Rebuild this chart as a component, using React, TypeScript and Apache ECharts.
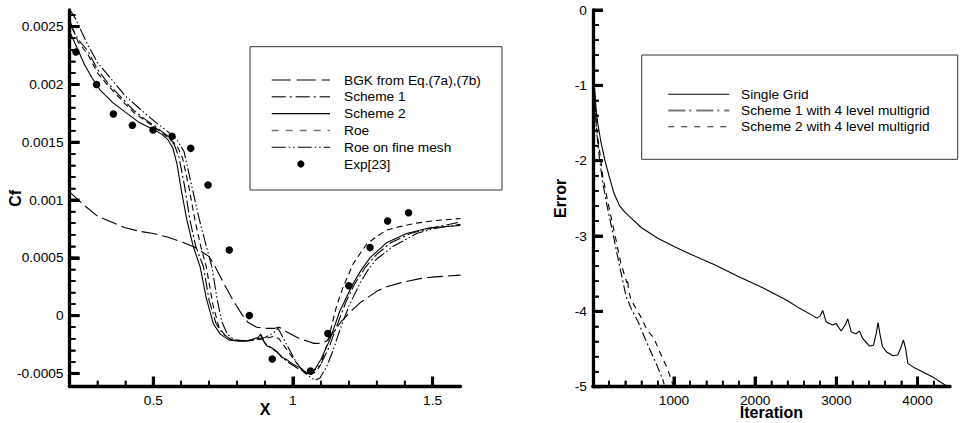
import React, { useEffect, useRef } from "react";
import * as echarts from "echarts";

const FONT = "Arial";

// ---------- Left chart: skin friction Cf vs X ----------
const LX_MAJOR = [0.5, 1, 1.5];
const LX_MINOR = [0.3, 0.4, 0.6, 0.7, 0.8, 0.9, 1.1, 1.2, 1.3, 1.4];
const LY_MAJOR = [-0.0005, 0, 0.0005, 0.001, 0.0015, 0.002, 0.0025];
const LY_MINOR = [
  -0.0004, -0.0003, -0.0002, -0.0001, 0.0001, 0.0002, 0.0003, 0.0004, 0.0006, 0.0007, 0.0008, 0.0009,
  0.0011, 0.0012, 0.0013, 0.0014, 0.0016, 0.0017, 0.0018, 0.0019, 0.0021, 0.0022, 0.0023, 0.0024, 0.0026,
];

const BGK = [
  [0.2, 0.00107], [0.25, 0.00096], [0.3, 0.00086], [0.35, 0.00081], [0.4, 0.00076], [0.45, 0.00073],
  [0.5, 0.00071], [0.55, 0.00068], [0.6, 0.00064], [0.65, 0.00059], [0.7, 0.00051], [0.72, 0.00043],
  [0.75, 0.00029], [0.786, 0.00013], [0.82, 0.0], [0.84, -0.00006], [0.87, -0.0001], [0.906, -0.00011],
  [0.935, -0.00011], [0.95, -0.0001], [0.965, -0.00012], [0.977, -0.00014], [1.0, -0.00017], [1.025, -0.0002],
  [1.05, -0.00022], [1.075, -0.00024], [1.1, -0.00024], [1.121, -0.00022], [1.144, -0.00015], [1.17, -0.00006],
  [1.2, 0.00002], [1.24, 0.00011], [1.3, 0.00021], [1.335, 0.00025], [1.395, 0.00029], [1.455, 0.00032],
  [1.508, 0.000335], [1.6, 0.00035],
];

const SCHEME1 = [
  [0.2, 0.00253], [0.23, 0.00239], [0.266, 0.00229], [0.3, 0.00213], [0.338, 0.00201], [0.4, 0.00185],
  [0.433, 0.00177], [0.47, 0.0017], [0.505, 0.00164], [0.553, 0.00155], [0.575, 0.00148], [0.592, 0.00137],
  [0.612, 0.00112], [0.631, 0.00083], [0.652, 0.0006], [0.68, 0.00042], [0.7, 0.00013], [0.725, -0.00007],
  [0.75, -0.00016], [0.78, -0.00021], [0.834, -0.00022], [0.875, -0.0002], [0.885, -0.00017], [0.9, -0.00024],
  [0.94, -0.00031], [0.98, -0.0004], [1.02, -0.00046], [1.05, -0.0005], [1.075, -0.00048], [1.1, -0.00042],
  [1.13, -0.00027], [1.16, -0.00007], [1.19, 0.00012], [1.22, 0.00027], [1.26, 0.00042], [1.3, 0.00053],
  [1.35, 0.00063], [1.42, 0.00071], [1.5, 0.00076], [1.6, 0.00081],
];

const SCHEME2 = [
  [0.2, 0.00246], [0.23, 0.0023], [0.254, 0.00217], [0.28, 0.00206], [0.31, 0.00195], [0.356, 0.00184],
  [0.4, 0.00176], [0.45, 0.00167], [0.5, 0.00161], [0.53, 0.00157], [0.553, 0.00152], [0.57, 0.00145],
  [0.585, 0.00131], [0.6, 0.00109], [0.62, 0.00083], [0.643, 0.0006], [0.668, 0.00042], [0.69, 0.00015],
  [0.715, -0.00007], [0.74, -0.00016], [0.77, -0.00021], [0.8, -0.00022], [0.834, -0.00022], [0.86, -0.0002],
  [0.875, -0.00019], [0.885, -0.00016], [0.895, -0.00022], [0.906, -0.00026], [0.925, -0.00028],
  [0.942, -0.00031], [0.96, -0.00036], [0.977, -0.00038], [1.0, -0.00042], [1.025, -0.00045], [1.045, -0.0005],
  [1.065, -0.00049], [1.08, -0.00046], [1.1, -0.00038], [1.132, -0.00021], [1.168, 0.00004], [1.2, 0.0002],
  [1.216, 0.00028], [1.246, 0.0004], [1.276, 0.0005], [1.335, 0.00063], [1.407, 0.00071], [1.49, 0.00076],
  [1.6, 0.00078],
];

const ROE = [
  [0.2, 0.00256], [0.23, 0.00237], [0.266, 0.00226], [0.3, 0.0021], [0.338, 0.00199], [0.4, 0.00183],
  [0.433, 0.00175], [0.47, 0.00169], [0.505, 0.00163], [0.553, 0.00154], [0.585, 0.00147], [0.605, 0.00136],
  [0.627, 0.00112], [0.649, 0.00083], [0.67, 0.0006], [0.69, 0.00042], [0.713, 0.0001], [0.735, -0.0001],
  [0.76, -0.00018], [0.79, -0.00022], [0.834, -0.00022], [0.87, -0.00021], [0.9, -0.0002], [0.93, -0.00018],
  [0.95, -0.0002], [0.98, -0.0003], [1.01, -0.0004], [1.04, -0.00048], [1.065, -0.00051], [1.085, -0.00048],
  [1.1, -0.00042], [1.125, -0.00022], [1.156, 0.00008], [1.18, 0.00025], [1.2, 0.00036], [1.216, 0.00045],
  [1.264, 0.00062], [1.31, 0.0007], [1.335, 0.00074], [1.383, 0.00077], [1.442, 0.0008], [1.5, 0.00082],
  [1.6, 0.00084],
];

const ROE_FINE = [
  [0.2, 0.00265], [0.219, 0.00258], [0.266, 0.00234], [0.3, 0.00219], [0.338, 0.00208], [0.4, 0.0019],
  [0.433, 0.00183], [0.47, 0.00175], [0.505, 0.00168], [0.553, 0.00159], [0.585, 0.00152], [0.61, 0.00142],
  [0.635, 0.00115], [0.665, 0.00083], [0.69, 0.0006], [0.71, 0.00042], [0.728, 0.00015], [0.745, -0.00005],
  [0.765, -0.00016], [0.79, -0.00021], [0.834, -0.00022], [0.87, -0.0002], [0.9, -0.00019], [0.93, -0.00015],
  [0.947, -0.00011], [0.96, -0.00017], [0.982, -0.00027], [1.013, -0.00041], [1.04, -0.00049], [1.061, -0.00053],
  [1.079, -0.00056], [1.097, -0.00054], [1.121, -0.00044], [1.144, -0.0003], [1.17, -0.00011], [1.2, 0.00008],
  [1.24, 0.00028], [1.27, 0.0004], [1.3, 0.00049], [1.359, 0.0006], [1.443, 0.00071], [1.5, 0.00075],
  [1.6, 0.00079],
];

const EXP23 = [
  [0.223, 0.00228], [0.297, 0.002], [0.357, 0.001744], [0.425, 0.001647], [0.499, 0.001606], [0.567, 0.001551],
  [0.634, 0.001447], [0.696, 0.00113], [0.772, 0.000567], [0.844, 0.0], [0.926, -0.000376], [1.063, -0.00048],
  [1.125, -0.000154], [1.2, 0.000258], [1.276, 0.00059], [1.339, 0.000818], [1.414, 0.00089],
];

// ---------- Right chart: convergence history ----------
const RX_MAJOR = [1000, 2000, 3000, 4000];
const RX_MINOR = [200, 400, 600, 800, 1200, 1400, 1600, 1800, 2200, 2400, 2600, 2800, 3200, 3400, 3600, 3800, 4200];
const RY_MAJOR = [-5, -4, -3, -2, -1, 0];
const RY_MINOR = [
  -4.8, -4.6, -4.4, -4.2, -3.8, -3.6, -3.4, -3.2, -2.8, -2.6, -2.4, -2.2, -1.8, -1.6, -1.4, -1.2,
  -0.8, -0.6, -0.4, -0.2,
];

const SINGLE_GRID = [
  [15, -0.98], [25, -1.08], [40, -1.3], [60, -1.5], [100, -1.75], [150, -2.0], [200, -2.2], [260, -2.43],
  [330, -2.6], [400, -2.69], [500, -2.79], [600, -2.89], [800, -3.03], [1000, -3.14], [1200, -3.24],
  [1500, -3.38], [1800, -3.54], [2100, -3.69], [2400, -3.86], [2546, -3.96], [2700, -4.05], [2760, -4.09],
  [2800, -4.06], [2833, -3.99], [2874, -4.14], [2956, -4.18], [2997, -4.16], [3059, -4.26], [3110, -4.18],
  [3141, -4.1], [3182, -4.27], [3244, -4.3], [3284, -4.26], [3325, -4.36], [3408, -4.46], [3457, -4.45],
  [3490, -4.3], [3514, -4.15], [3540, -4.32], [3570, -4.47], [3620, -4.54], [3695, -4.59], [3756, -4.58],
  [3795, -4.48], [3826, -4.38], [3855, -4.5], [3880, -4.69], [3962, -4.75], [4187, -4.87], [4343, -4.98],
];

const SCHEME1_MG = [
  [15, -0.98], [30, -1.3], [50, -1.65], [80, -1.95], [120, -2.28], [180, -2.62], [250, -2.98], [330, -3.4],
  [410, -3.8], [480, -3.98], [550, -4.12], [620, -4.3], [700, -4.5], [780, -4.69], [860, -4.9], [880, -4.97],
];

const SCHEME2_MG = [
  [15, -0.98], [30, -1.3], [50, -1.6], [100, -2.0], [120, -2.19], [180, -2.52], [260, -2.92], [345, -3.36],
  [420, -3.62], [428, -3.57], [440, -3.72], [472, -3.85], [590, -4.07], [670, -4.25], [750, -4.35],
  [850, -4.6], [920, -4.76], [985, -4.97],
];

const LEFT_LEGEND = [
  { name: "BGK from Eq.(7a),(7b)", dash: [19, 6], color: "#000", width: 1.1 },
  { name: "Scheme 1", dash: [14, 4, 2, 4], color: "#444", width: 1.5 },
  { name: "Scheme 2", dash: null, color: "#000", width: 1.1 },
  { name: "Roe", dash: [7, 7], color: "#777", width: 1.5 },
  { name: "Roe on fine mesh", dash: [14, 3, 1.5, 3, 1.5, 3], color: "#000", width: 1.1 },
  { name: "Exp[23]", dash: "dot", color: "#000", width: 1 },
];

const RIGHT_LEGEND = [
  { name: "Single Grid", dash: null, color: "#000", width: 1.1 },
  { name: "Scheme 1 with 4 level multigrid", dash: [17, 4, 2, 5], color: "#777", width: 2 },
  { name: "Scheme 2 with 4 level multigrid", dash: [6, 7], color: "#222", width: 1.1 },
];

type Frame = { left: number; width: number; x: number[]; y: number[] };
// right chart lives in its own containers starting at x = 481
const LEFT_FRAME: Frame = { left: 69.5, width: 391, x: [0.2, 1.6], y: [-0.000615, 0.002644] };
const RIGHT_FRAME: Frame = { left: 111.8, width: 357.2, x: [0, 4400], y: [-5, 0] };

function gridOf(f: Frame) {
  return [{ left: f.left, top: 10, width: f.width, height: 376.7, outerBoundsMode: "none", containLabel: false }];
}

function mainAxis(dim: "x" | "y", min: number, max: number, major: number[], name: string, nameGap: number) {
  return {
    type: "value",
    gridIndex: 0,
    min,
    max,
    position: dim === "x" ? "bottom" : "left",
    name,
    nameLocation: "middle",
    nameGap,
    nameMoveOverlap: false,
    nameTextStyle: { color: "#000", fontSize: 16, fontWeight: "bold", fontFamily: FONT },
    axisLine: { show: true, onZero: false, lineStyle: { color: "#000", width: 3.3 } },
    axisTick: { show: true, inside: true, length: 10, lineStyle: { color: "#000", width: 3 }, customValues: major },
    axisLabel: {
      color: "#000",
      fontSize: 13.7,
      fontFamily: FONT,
      margin: dim === "x" ? 6.5 : 6,
      customValues: major,
      formatter: (v: number) => String(v),
    },
    splitLine: { show: false },
  };
}

function minorAxis(dim: "x" | "y", min: number, max: number, minor: number[]) {
  return {
    type: "value",
    gridIndex: 0,
    min,
    max,
    position: dim === "x" ? "bottom" : "left",
    offset: 0,
    axisLine: { show: false, onZero: false },
    axisTick: { show: true, inside: true, length: 6, lineStyle: { color: "#000", width: 1.6 }, customValues: minor },
    axisLabel: { show: false },
    splitLine: { show: false },
  };
}

function hiddenAxis(min: number, max: number) {
  return { type: "value", gridIndex: 0, min, max, show: false, splitLine: { show: false } };
}

function legendGraphics(
  items: { name: string; dash: any; color: string; width: number }[],
  box: { x: number; y: number; w: number; h: number },
  x1: number, x2: number, tx: number, y0: number, dy: number
) {
  const els: any[] = [
    { type: "rect", shape: { x: box.x, y: box.y, width: box.w, height: box.h }, style: { fill: "none", stroke: "#333", lineWidth: 1 } },
  ];
  items.forEach((it, i) => {
    const y = y0 + i * dy;
    if (it.dash === "dot") {
      els.push({ type: "circle", shape: { cx: (x1 + x2) / 2, cy: y, r: 3.6 }, style: { fill: "#000" } });
    } else {
      els.push({ type: "line", shape: { x1, y1: y, x2, y2: y }, style: { stroke: it.color, lineWidth: it.width, lineDash: it.dash || undefined } });
    }
    els.push({ type: "text", x: tx, y, style: { text: it.name, fill: "#000", font: `13.7px ${FONT}`, verticalAlign: "middle", align: "left" } });
  });
  return els;
}

function lineSeries(data: number[][], dash: any, name: string, width = 1.1) {
  return {
    type: "line", name, xAxisIndex: 0, yAxisIndex: 0, data, showSymbol: false, symbol: "none",
    lineStyle: { color: "#000", width, type: dash || "solid" },
  };
}

// ----- data layers -----
function leftData() {
  const f = LEFT_FRAME;
  return {
    animation: false,
    grid: gridOf(f),
    xAxis: [hiddenAxis(f.x[0], f.x[1])],
    yAxis: [hiddenAxis(f.y[0], f.y[1])],
    series: [
      lineSeries(BGK, [16, 5], "BGK from Eq.(7a),(7b)"),
      lineSeries(SCHEME1, [12, 3, 2, 3], "Scheme 1"),
      lineSeries(SCHEME2, null, "Scheme 2"),
      lineSeries(ROE, [6, 4], "Roe"),
      lineSeries(ROE_FINE, [12, 2.5, 1.5, 2.5, 1.5, 2.5], "Roe on fine mesh"),
      { type: "scatter", name: "Exp[23]", xAxisIndex: 0, yAxisIndex: 0, data: EXP23, symbol: "circle", symbolSize: 7.5, itemStyle: { color: "#000", opacity: 1 } },
    ],
    graphic: legendGraphics(LEFT_LEGEND, { x: 250, y: 46.7, w: 252, h: 143.3 }, 271.7, 330, 344, 80, 16.8),
  };
}

function rightData() {
  const f = RIGHT_FRAME;
  return {
    animation: false,
    grid: gridOf(f),
    xAxis: [hiddenAxis(f.x[0], f.x[1])],
    yAxis: [hiddenAxis(f.y[0], f.y[1])],
    series: [
      lineSeries(SINGLE_GRID, null, "Single Grid"),
      lineSeries(SCHEME1_MG, [9, 3, 2, 3], "Scheme 1 with 4 level multigrid"),
      lineSeries(SCHEME2_MG, [6, 5], "Scheme 2 with 4 level multigrid"),
    ],
    graphic: legendGraphics(RIGHT_LEGEND, { x: 160.7, y: 55, w: 316, h: 104.3 }, 187.3, 248.3, 260, 94.3, 16.2),
  };
}

// ----- axis layers (frame, labels, names, ticks) -----
type AxisSpec = { f: Frame; xMaj: number[]; xMin: number[]; yMaj: number[]; yMin: number[]; xName: string; yName: string; xGap: number; yGap: number };
const LEFT_AXES: AxisSpec = { f: LEFT_FRAME, xMaj: LX_MAJOR, xMin: LX_MINOR, yMaj: LY_MAJOR, yMin: LY_MINOR, xName: "X", yName: "Cf", xGap: 15, yGap: 46 };
const RIGHT_AXES: AxisSpec = { f: RIGHT_FRAME, xMaj: RX_MAJOR, xMin: RX_MINOR, yMaj: RY_MAJOR, yMin: RY_MINOR, xName: "Iteration", yName: "Error", xGap: 18, yGap: 24 };

function axesOption(s: AxisSpec) {
  const f = s.f;
  return {
    animation: false,
    grid: gridOf(f),
    xAxis: [mainAxis("x", f.x[0], f.x[1], s.xMaj, s.xName, s.xGap), minorAxis("x", f.x[0], f.x[1], s.xMin)],
    yAxis: [mainAxis("y", f.y[0], f.y[1], s.yMaj, s.yName, s.yGap), minorAxis("y", f.y[0], f.y[1], s.yMin)],
    series: [{ type: "line", xAxisIndex: 0, yAxisIndex: 0, data: [], showSymbol: false }],
  };
}

// backup tick marks, placed through the axes' own scales
function tickMarks(chart: any, s: AxisSpec) {
  const f = s.f;
  const px = (v: number) => chart.convertToPixel({ xAxisIndex: 0 }, v) as number;
  const py = (v: number) => chart.convertToPixel({ yAxisIndex: 0 }, v) as number;
  const x0 = px(f.x[0]);
  const y0 = py(f.y[0]);
  const els: any[] = [];
  const seg = (a: number, b: number, c: number, d: number, w: number) =>
    els.push({ type: "line", shape: { x1: a, y1: b, x2: c, y2: d }, style: { stroke: "#000", lineWidth: w } });
  s.xMaj.forEach((v) => { const x = px(v); seg(x, y0, x, y0 - 10, 3); });
  s.xMin.forEach((v) => { const x = px(v); seg(x, y0, x, y0 - 6, 1.6); });
  s.yMaj.forEach((v) => { const y = py(v); seg(x0, y, x0 + 10, y, 3); });
  s.yMin.forEach((v) => { const y = py(v); seg(x0, y, x0 + 6, y, 1.6); });
  return els;
}

function Chart({ left, width, build, ticks }: { left: number; width: number; build: () => any; ticks?: AxisSpec }) {
  const ref = useRef<HTMLDivElement>(null);
  useEffect(() => {
    const chart = echarts.init(ref.current as HTMLDivElement, null, { renderer: "svg" });
    chart.setOption(build());
    if (ticks) {
      try {
        chart.setOption({ graphic: tickMarks(chart, ticks) });
      } catch (e) {
        /* axis ticks already drawn by the axes */
      }
    }
    return () => chart.dispose();
  }, []);
  return <div ref={ref} style={{ position: "absolute", left, top: 0, width, height: 423 }} />;
}

export default function App() {
  return (
    <div style={{ position: "absolute", left: 0, top: 0, width: 962, height: 423, background: "#fff" }}>
      <Chart left={0} width={962} build={leftData} />
      <Chart left={481} width={481} build={rightData} />
      <Chart left={0} width={481} build={() => axesOption(LEFT_AXES)} ticks={LEFT_AXES} />
      <Chart left={481} width={481} build={() => axesOption(RIGHT_AXES)} ticks={RIGHT_AXES} />
    </div>
  );
}
